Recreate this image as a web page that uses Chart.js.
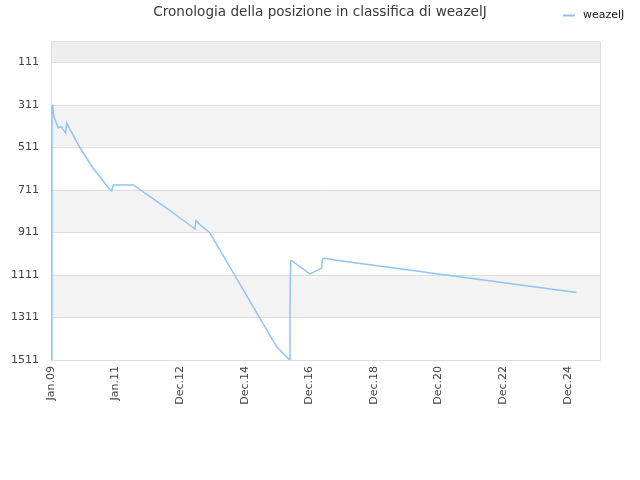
<!DOCTYPE html>
<html>
<head>
<meta charset="utf-8">
<title>Cronologia della posizione in classifica di weazelJ</title>
<script src="https://cdn.jsdelivr.net/npm/chart.js@4/dist/chart.umd.min.js"></script>
<style>
  html, body { margin: 0; padding: 0; background: #fff; }
  #wrap { width: 640px; height: 480px; }
</style>
</head>
<body>
<div id="wrap"><canvas id="rankChart" width="640" height="480"></canvas></div>
<script>
  'use strict';

  const chartTitle = 'Cronologia della posizione in classifica di weazelJ';
  const seriesName = 'weazelJ';

  // time as fractional year, rank as position
  const years = [
    2009.0, 2009.03, 2009.05, 2009.09, 2009.22, 2009.33, 2009.37, 2009.455, 2009.486, 2009.536,
    2009.898, 2010.26, 2010.827, 2010.879, 2010.929, 2011.548, 2012.375, 2012.684, 2013.458, 2013.489,
    2013.613, 2013.901, 2013.944, 2015.988, 2016.347, 2016.378, 2016.399, 2016.421, 2016.452, 2017.019,
    2017.381, 2017.406, 2017.483, 2017.947, 2025.275
  ];
  const ranks = [
    1511, 316, 314, 366, 419, 414, 427, 443, 395, 411,
    513, 600, 710, 715, 688, 688, 776, 808, 895, 855,
    875, 910, 919, 1449, 1504, 1509, 1261, 1044, 1044, 1106,
    1079, 1036, 1033, 1044, 1194
  ];

  const yTicks = [111, 311, 511, 711, 911, 1111, 1311, 1511];
  const xTicks = [2009, 2011, 2013, 2015, 2017, 2019, 2021, 2023, 2025];
  const xTickLabels = ['Jan.09', 'Jan.11', 'Dec.12', 'Dec.14', 'Dec.16', 'Dec.18', 'Dec.20', 'Dec.22', 'Dec.24'];

  const LINE_COLOR = 'rgb(144,196,246)';

  // alternating background bands + plot frame
  const bandsPlugin = {
    id: 'bands',
    beforeDatasetsDraw(chart) {
      const { ctx, chartArea: a, scales: { y } } = chart;
      ctx.save();
      const edges = [y.min].concat(yTicks);
      for (let i = 0; i < edges.length - 1; i++) {
        const top = y.getPixelForValue(edges[i]);
        const bot = y.getPixelForValue(edges[i + 1]);
        if (i === 0) ctx.fillStyle = '#eeeeee';
        else if (i % 2 === 0) ctx.fillStyle = '#f3f3f3';
        else continue;
        ctx.fillRect(a.left, top, a.right - a.left, bot - top);
      }
      ctx.strokeStyle = '#dddddd';
      ctx.lineWidth = 1;
      yTicks.forEach(v => {
        const py = Math.round(y.getPixelForValue(v)) + 0.5;
        ctx.beginPath(); ctx.moveTo(a.left, py); ctx.lineTo(a.right, py); ctx.stroke();
      });
      ctx.strokeRect(Math.round(a.left) + 0.5, Math.round(a.top) + 0.5, Math.round(a.right - a.left), Math.round(a.bottom - a.top));
      ctx.restore();
    }
  };

  // title and legend on the same top row
  const headerPlugin = {
    id: 'header',
    afterDraw(chart) {
      const { ctx } = chart;
      ctx.save();
      ctx.fillStyle = '#3a3a3a';
      ctx.font = '13.6px "DejaVu Sans", sans-serif';
      ctx.textAlign = 'center';
      ctx.textBaseline = 'middle';
      ctx.fillText(chartTitle, 320, 12);
      ctx.strokeStyle = LINE_COLOR;
      ctx.lineWidth = 2;
      ctx.beginPath(); ctx.moveTo(563, 15.5); ctx.lineTo(575, 15.5); ctx.stroke();
      ctx.fillStyle = '#111111';
      ctx.font = '11px "DejaVu Sans", sans-serif';
      ctx.textAlign = 'left';
      ctx.fillText(seriesName, 583, 15);
      ctx.restore();
    }
  };

  function init() {
    const ctx = document.getElementById('rankChart');
    new Chart(ctx, {
      type: 'line',
      data: {
        datasets: [{
          label: seriesName,
          data: years.map((x, i) => ({ x: x, y: ranks[i] })),
          borderColor: LINE_COLOR,
          borderWidth: 1.5,
          pointRadius: 0,
          tension: 0,
          fill: false
        }]
      },
      options: {
        responsive: false,
        animation: false,
        layout: { padding: { top: 41, right: 40, left: 0, bottom: 0 } },
        plugins: {
          legend: { display: false },
          title: { display: false },
          tooltip: { enabled: false }
        },
        scales: {
          x: {
            type: 'linear',
            min: 2009,
            max: 2026,
            afterBuildTicks: (axis) => { axis.ticks = xTicks.map(v => ({ value: v })); },
            afterFit: (axis) => { axis.height = 120; },
            grid: { display: false, drawTicks: false },
            border: { display: false },
            ticks: {
              autoSkip: false,
              minRotation: 90,
              maxRotation: 90,
              padding: 6,
              color: '#444444',
              font: { family: 'DejaVu Sans', size: 11 },
              callback: (v) => xTickLabels[xTicks.indexOf(v)]
            }
          },
          y: {
            reverse: true,
            min: 11,
            max: 1511,
            afterBuildTicks: (axis) => { axis.ticks = yTicks.map(v => ({ value: v })); },
            afterFit: (axis) => { axis.width = 51; },
            grid: { display: false, drawTicks: false },
            border: { display: false },
            ticks: {
              padding: 12,
              color: '#444444',
              font: { family: 'DejaVu Sans', size: 11 },
              callback: (v) => String(v)
            }
          }
        }
      },
      plugins: [bandsPlugin, headerPlugin]
    });
  }

  if (document.readyState === 'loading') document.addEventListener('DOMContentLoaded', init); else init();
</script>
</body>
</html>
